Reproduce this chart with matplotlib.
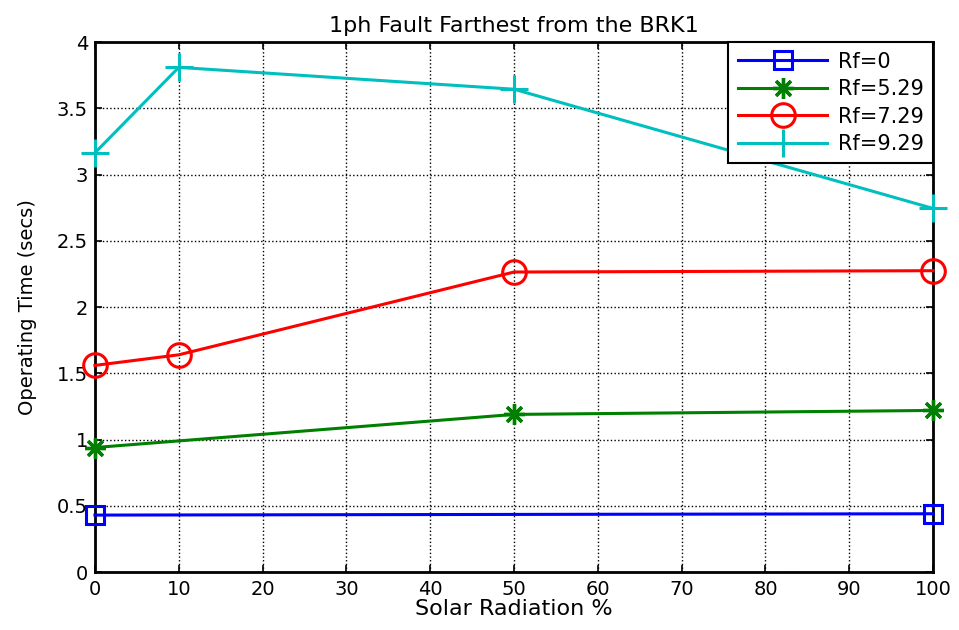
import matplotlib
matplotlib.use("Agg")
from matplotlib import pyplot as plt

plt.rcParams['font.family'] = ['DejaVu Sans']

# Solar radiation (%) and operating times (secs) for each fault resistance
x_rf0 = [0, 100]
t_rf0 = [0.43, 0.44]
x_rf529 = [0, 50, 100]
t_rf529 = [0.94, 1.19, 1.22]
x_rf729 = [0, 10, 50, 100]
t_rf729 = [1.56, 1.64, 2.265, 2.275]
x_rf929 = [0, 10, 50, 100]
t_rf929 = [3.165, 3.81, 3.645, 2.745]

fig = plt.figure(figsize=(9.59, 6.3), dpi=100)
ax = fig.add_axes([0.099, 0.092, 0.874, 0.841])

asterisk = (8, 2, 0)
ax.plot(x_rf0, t_rf0, color="blue", lw=2.2, marker="s", ms=13, mfc="none", mew=2.2, label="Rf=0", clip_on=False, zorder=4)
ax.plot(x_rf529, t_rf529, color="green", lw=2.2, marker=asterisk, ms=15, mew=2.4, label="Rf=5.29", clip_on=False, zorder=4)
ax.plot(x_rf729, t_rf729, color="red", lw=2.2, marker="o", ms=17, mfc="none", mew=2.2, label="Rf=7.29", clip_on=False, zorder=4)
ax.plot(x_rf929, t_rf929, color="#00bfbf", lw=2.2, marker="+", ms=20, mew=2.2, label="Rf=9.29", clip_on=False, zorder=4)

ax.set_xlim(0, 100)
ax.set_ylim(0, 4)
ax.set_xticks(range(0, 101, 10))
ax.set_yticks([0, 0.5, 1, 1.5, 2, 2.5, 3, 3.5, 4])
ax.set_yticklabels(["0", "0.5", "1", "1.5", "2", "2.5", "3", "3.5", "4"])
ax.grid(True, color="black", linestyle=":", lw=1)
ax.tick_params(direction="in", labelsize=14, length=5, width=1.2, top=True, right=True)
ax.tick_params(axis="x", pad=6)
ax.tick_params(axis="y", pad=5)
for s in ax.spines.values():
    s.set_linewidth(2)
    s.set_zorder(3)

ax.set_title("1ph Fault Farthest from the BRK1", fontsize=16, pad=7)
ax.set_xlabel("Solar Radiation %", fontsize=16, labelpad=0)
ax.set_ylabel("Operating Time (secs)", fontsize=14, labelpad=14)

leg = ax.legend(loc="upper right", fontsize=15, fancybox=False, edgecolor="black",
                framealpha=1, handlelength=4.3, handletextpad=0.5, borderaxespad=0,
                labelspacing=0.36, borderpad=0.45)
leg.get_frame().set_linewidth(1.5)
leg.set_zorder(5)

plt.savefig("out.png", dpi=100)
plt.close()
